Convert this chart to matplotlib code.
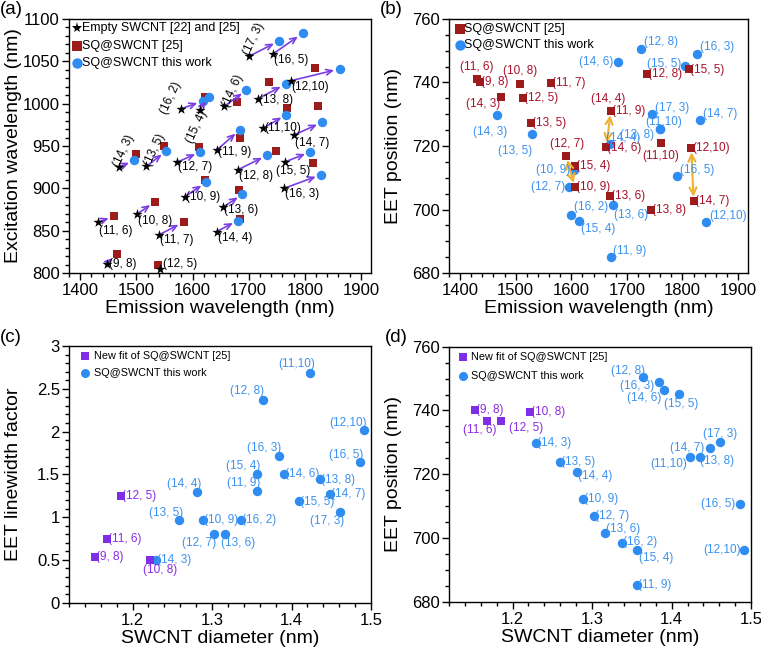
import matplotlib.pyplot as plt
from matplotlib.ticker import AutoMinorLocator, MultipleLocator, FormatStrFormatter
from matplotlib.transforms import ScaledTranslation

plt.rcParams['font.family'] = ['Liberation Sans', 'DejaVu Sans']
plt.rcParams['axes.linewidth'] = 1.0

# ---------------- data ----------------
# (a) excitation vs emission
a_empty_tube = ['(9, 8)', '(12, 5)', '(11, 6)', '(10, 8)', '(11, 7)', '(14, 4)', '(13, 6)', '(10, 9)',
                '(16, 3)', '(15, 5)', '(12, 8)', '(12, 7)', '(11, 9)', '(14, 3)', '(13, 5)', '(16, 2)',
                '(15, 4)', '(14, 6)', '(13, 8)', '(12,10)', '(11,10)', '(14, 7)', '(17, 3)', '(16, 5)']
a_empty_em = [1447, 1542, 1431, 1502, 1540, 1643, 1655, 1586,
              1763, 1764, 1681, 1573, 1643, 1469, 1518, 1580,
              1613, 1657, 1717, 1775, 1726, 1781, 1701, 1744]
a_empty_ex = [811, 805, 860, 870, 845, 849, 878, 890,
              900, 931, 922, 931, 945, 925, 926, 994,
              993, 997, 1006, 1027, 971, 963, 1056, 1059]

a_ref_tube = ['(9, 8)', '(12, 5)', '(11, 6)', '(10, 8)', '(11, 7)', '(14, 4)', '(13, 6)', '(10, 9)',
              '(15, 5)', '(12, 8)', '(12, 7)', '(11, 9)', '(14, 3)', '(13, 5)', '(15, 4)', '(14, 6)',
              '(13, 8)', '(12,10)', '(11,10)', '(14, 7)']
a_ref_em = [1465, 1538, 1460, 1533, 1584, 1684, 1683, 1622,
            1814, 1748, 1611, 1684, 1500, 1550, 1622, 1679,
            1736, 1819, 1769, 1824]
a_ref_ex = [822, 809, 867, 884, 860, 864, 898, 910,
            930, 944, 949, 960, 940, 950, 1008, 1002,
            1025, 1042, 995, 997]

a_this_tube = ['(14, 4)', '(13, 6)', '(10, 9)', '(16, 3)', '(15, 5)', '(12, 8)', '(12, 7)', '(11, 9)',
               '(14, 3)', '(13, 5)', '(16, 2)', '(15, 4)', '(14, 6)', '(13, 8)', '(12,10)', '(11,10)',
               '(14, 7)', '(17, 3)', '(16, 5)']
a_this_em = [1681, 1689, 1624, 1829, 1810, 1733, 1614, 1684,
             1496, 1553, 1618, 1630, 1696, 1766, 1862, 1767,
             1831, 1754, 1796]
a_this_ex = [862, 893, 907, 916, 943, 939, 943, 969,
             933, 944, 1003, 1008, 1016, 1023, 1041, 987,
             978, 1074, 1083]

# (b) EET position vs emission, SQ@SWCNT [25]
b_ref_tube = ['(11, 6)', '(9, 8)', '(10, 8)', '(11, 7)', '(14, 3)', '(12, 5)', '(13, 5)', '(12, 7)',
              '(15, 4)', '(10, 9)', '(14, 4)', '(11, 9)', '(14, 6)', '(13, 6)', '(13, 8)', '(12, 8)',
              '(15, 5)', '(11,10)', '(12,10)', '(14, 7)']
b_ref_em = [1430, 1436, 1508, 1564, 1474, 1514, 1527, 1591,
            1606, 1606, 1671, 1671, 1663, 1669, 1743, 1737,
            1811, 1762, 1816, 1820]
b_ref_eet = [741.1, 740.1, 739.6, 739.8, 735.5, 735.2, 727.2, 716.9,
             713.8, 707.1, 731.0, 731.0, 719.8, 704.2, 699.8, 742.7,
             744.3, 720.8, 719.3, 702.7]
b_reassign = [('(14, 4)', '(14, 6)'), ('(12, 7)', '(10, 9)'), ('(12,10)', '(14, 7)')]

# SQ@SWCNT this work (b, c, d)
this_tube = ['(14, 3)', '(13, 5)', '(14, 4)', '(10, 9)', '(12, 7)', '(13, 6)', '(16, 2)', '(15, 4)',
             '(11, 9)', '(12, 8)', '(16, 3)', '(14, 6)', '(15, 5)', '(17, 3)', '(14, 7)', '(11,10)',
             '(13, 8)', '(16, 5)', '(12,10)']
this_em = [1467, 1530, 1669, 1605, 1596, 1675, 1600, 1613,
           1671, 1725, 1826, 1684, 1805, 1746, 1831, 1759,
           1759, 1790, 1843]
this_eet = [729.9, 723.9, 720.6, 712.3, 707.0, 701.5, 698.4, 696.3,
            685.1, 750.6, 749.0, 746.4, 745.2, 730.2, 728.2, 725.3,
            725.5, 710.6, 696.1]
this_diam = [1.229, 1.259, 1.281, 1.288, 1.302, 1.316, 1.337, 1.357,
             1.357, 1.364, 1.384, 1.390, 1.409, 1.461, 1.448, 1.423,
             1.436, 1.486, 1.491]
this_lwf = [0.50, 0.97, 1.29, 0.97, 0.80, 0.80, 0.97, 1.50,
            1.30, 2.37, 1.71, 1.50, 1.19, 1.06, 1.27, 2.69,
            1.45, 1.64, 2.02]

# new fit of SQ@SWCNT [25] (c, d)
fit_tube = ['(9, 8)', '(11, 6)', '(12, 5)', '(10, 8)']
fit_diam = [1.153, 1.168, 1.185, 1.222]
fit_lwf = [0.53, 0.74, 1.25, 0.50]
fit_eet = [740.0, 736.6, 736.6, 739.6]

# ---------------- styles ----------------
RED = '#9c1c1c'
RED_TXT = '#a8102a'
BLUE = '#2f8cf0'
BLUE_TXT = '#3b92f0'
PURPLE = '#7d2ee6'
PURPLE_TXT = '#8a2be2'
ARROW = '#7a3fe4'
ORANGE = '#f0b030'
LBL = 8.5

# label placement: name -> (dx px, dy px, ha[, rotation])
a_lab = {
    '(9, 8)': (2, 0, 'left'), '(12, 5)': (3, 5, 'left'), '(11, 6)': (1, -9, 'left'),
    '(10, 8)': (1, -7, 'left'), '(11, 7)': (1, -5, 'left'), '(14, 4)': (1, -6, 'left'),
    '(13, 6)': (1, -3, 'left'), '(10, 9)': (1, 0, 'left'), '(16, 3)': (1, -6, 'left'),
    '(15, 5)': (-9, -9, 'left'), '(12, 8)': (1, -6, 'left'), '(12, 7)': (1, -5, 'left'),
    '(11, 9)': (1, -2, 'left'), '(13, 8)': (1, -1, 'left'), '(12,10)': (1, -6, 'left'),
    '(11,10)': (1, 0, 'left'), '(14, 7)': (1, -8, 'left'), '(16, 5)': (1, -6, 'left'),
    '(14, 3)': (5, 16, 'center', 65), '(13, 5)': (8, 16, 'center', 65),
    '(16, 2)': (-10, 11, 'center', 65), '(15, 4)': (-3, -17, 'center', 65),
    '(14, 6)': (8, 15, 'center', 65), '(17, 3)': (5, 17, 'center', 65),
}
b_ref_lab = {
    '(11, 6)': (0, 12, 'center'), '(9, 8)': (1, 0, 'left'), '(10, 8)': (0, 13, 'center'),
    '(11, 7)': (1, 0, 'left'), '(14, 3)': (-18, -7, 'center'), '(12, 5)': (1, 0, 'left'),
    '(13, 5)': (1, 0, 'left'), '(12, 7)': (1, 12, 'center'), '(15, 4)': (1, 0, 'left'),
    '(10, 9)': (1, 0, 'left'), '(14, 4)': (-3, 12, 'center'), '(11, 9)': (1, 0, 'left'),
    '(14, 6)': (1, -1, 'left'), '(13, 6)': (1, 0, 'left'), '(13, 8)': (1, 0, 'left'),
    '(12, 8)': (1, 0, 'left'), '(15, 5)': (1, -1, 'left'), '(11,10)': (-1, -13, 'center'),
    '(12,10)': (1, 0, 'left'), '(14, 7)': (1, 0, 'left'),
}
b_this_lab = {
    '(14, 3)': (-7, -17, 'center'), '(13, 5)': (-17, -17, 'center'), '(10, 9)': (-4, 0, 'right'),
    '(12, 7)': (-4, 0, 'right'), '(16, 2)': (3, 8, 'left'), '(15, 4)': (2, -8, 'left'),
    '(13, 6)': (1, -10, 'left'), '(11, 9)': (2, 6, 'left'), '(14, 4)': (-4, 6, 'left'),
    '(14, 6)': (-5, 0, 'right'), '(12, 8)': (3, 7, 'left'), '(16, 3)': (3, 7, 'left'),
    '(15, 5)': (-4, 2, 'right'), '(17, 3)': (3, 6, 'left'), '(13, 8)': (-6, -6, 'right'),
    '(11,10)': (4, 7, 'center'), '(14, 7)': (3, 6, 'left'), '(16, 5)': (3, 6, 'left'),
    '(12,10)': (3, 6, 'left'),
}
c_fit_lab = {'(12, 5)': (1, 0, 'left'), '(11, 6)': (1, 0, 'left'), '(9, 8)': (1, 0, 'left'),
             '(10, 8)': (10, -10, 'center')}
c_this_lab = {
    '(14, 3)': (1, 0, 'left'), '(13, 5)': (-13, 7, 'center'), '(14, 4)': (-13, 8, 'center'),
    '(10, 9)': (1, 0, 'left'), '(12, 7)': (-15, -9, 'center'), '(13, 6)': (13, -9, 'center'),
    '(16, 2)': (1, 0, 'left'), '(15, 4)': (-14, 8, 'center'), '(11, 9)': (-14, 8, 'center'),
    '(12, 8)': (-16, 9, 'center'), '(16, 3)': (-15, 8, 'center'), '(14, 6)': (1, 0, 'left'),
    '(11,10)': (-13, 9, 'center'), '(15, 5)': (1, -1, 'left'), '(13, 8)': (1, -1, 'left'),
    '(14, 7)': (1, 0, 'left'), '(17, 3)': (-13, -9, 'center'), '(16, 5)': (-14, 7, 'center'),
    '(12,10)': (-16, 7, 'center'),
}
d_fit_lab = {'(9, 8)': (1, 0, 'left'), '(11, 6)': (-7, -9, 'center'), '(12, 5)': (25, -7, 'center'),
             '(10, 8)': (1, 0, 'left')}
d_this_lab = {
    '(14, 3)': (1, 0, 'left'), '(13, 5)': (1, 0, 'left'), '(14, 4)': (1, -4, 'left'),
    '(10, 9)': (1, 0, 'left'), '(12, 7)': (1, 0, 'left'), '(13, 6)': (1, 4, 'left'),
    '(16, 2)': (1, 1, 'left'), '(15, 4)': (2, -8, 'left'), '(11, 9)': (1, 0, 'left'),
    '(12, 8)': (-15, 6, 'center'), '(16, 3)': (-5, -4, 'right'), '(14, 6)': (-2, -8, 'right'),
    '(15, 5)': (2, -10, 'center'), '(17, 3)': (0, 8, 'center'), '(14, 7)': (-5, 0, 'right'),
    '(11,10)': (-3, -7, 'right'), '(13, 8)': (0, -4, 'left'), '(16, 5)': (-5, 0, 'right'),
    '(12,10)': (-3, 0, 'right'),
}


def label_points(ax, names, xs, ys, layout, color):
    for name, x, y in zip(names, xs, ys):
        dx, dy, ha, *rot = layout[name]
        ax.annotate(name, (x, y), xytext=(dx, dy), textcoords='offset pixels',
                    ha=ha, va='center', color=color, fontsize=LBL,
                    rotation=rot[0] if rot else 0, zorder=5)


def style_axes(ax, xlim, ylim, xmaj, ymaj, xmin_n, ymin_n, xlabel, ylabel):
    ax.set_xlim(*xlim)
    ax.set_ylim(*ylim)
    ax.xaxis.set_major_locator(MultipleLocator(xmaj))
    ax.yaxis.set_major_locator(MultipleLocator(ymaj))
    ax.xaxis.set_minor_locator(AutoMinorLocator(xmin_n))
    ax.yaxis.set_minor_locator(AutoMinorLocator(ymin_n))
    ax.xaxis.set_major_formatter(FormatStrFormatter('%g'))
    ax.yaxis.set_major_formatter(FormatStrFormatter('%g'))
    ax.tick_params(which='both', direction='out', top=False, right=False, labelsize=12, width=1)
    ax.tick_params(which='major', length=5)
    ax.tick_params(which='minor', length=3)
    ax.tick_params(axis='y', pad=1.5)
    ax.tick_params(axis='x', pad=2.5)
    ax.set_xlabel(xlabel, fontsize=14)
    ax.set_ylabel(ylabel, fontsize=14)
    ax.xaxis.set_label_coords(0.5, -0.105)
    ax.yaxis.set_label_coords(-0.157, 0.5)


def legend(ax, entries, mark_dx, text_dx, rows_dy, size):
    # hand-placed legend, offsets in pixels from the upper-left corner of the axes
    for (m, c, ms, t), dy in zip(entries, rows_dy):
        mark_tr = ax.transAxes + ScaledTranslation(mark_dx / 100, -dy / 100, fig.dpi_scale_trans)
        ax.plot([0], [1], ls='none', marker=m, color=c, markersize=ms, mew=0,
                transform=mark_tr, clip_on=False, zorder=6)
        ax.annotate(t, (0, 1), xycoords='axes fraction', xytext=(text_dx, -dy),
                    textcoords='offset pixels', ha='left', va='center', fontsize=size)


fig = plt.figure(figsize=(7.61, 6.59), dpi=100)
ax_a = fig.add_axes([0.0907, 0.5857, 0.3968, 0.3855])
ax_b = fig.add_axes([0.590, 0.5857, 0.393, 0.3855])
ax_c = fig.add_axes([0.0907, 0.0854, 0.3968, 0.3896])
ax_d = fig.add_axes([0.590, 0.0869, 0.397, 0.3870])

# ---- (a)
ax_a.scatter(a_ref_em, a_ref_ex, marker='s', s=36, color=RED, zorder=2, linewidths=0)
ax_a.scatter(a_this_em, a_this_ex, marker='o', s=46, color=BLUE, zorder=3, linewidths=0)
ax_a.scatter(a_empty_em, a_empty_ex, marker='*', s=60, color='black', zorder=4, linewidths=0)
this_pos = dict(zip(a_this_tube, zip(a_this_em, a_this_ex)))
ref_pos = dict(zip(a_ref_tube, zip(a_ref_em, a_ref_ex)))
for name, x, y in zip(a_empty_tube, a_empty_em, a_empty_ex):
    if name == '(12, 5)':
        continue
    target = this_pos.get(name, ref_pos.get(name))
    ax_a.annotate('', xy=target, xytext=(x, y),
                  arrowprops=dict(arrowstyle='->,head_length=0.45,head_width=0.2', color=ARROW,
                                  lw=1.2, shrinkA=1, shrinkB=4), zorder=3)
label_points(ax_a, a_empty_tube, a_empty_em, a_empty_ex, a_lab, 'black')
style_axes(ax_a, (1380, 1918), (800, 1100), 100, 50, 5, 5,
           'Emission wavelength (nm)', 'Excitation wavelength (nm)')
legend(ax_a, [('*', 'black', 8, 'Empty SWCNT [22] and [25]'),
              ('s', RED, 6.5, 'SQ@SWCNT [25]'),
              ('o', BLUE, 7.5, 'SQ@SWCNT this work')], 8.3, 12.7, [9.3, 26.7, 43.7], 9)

# ---- (b)
ax_b.scatter(b_ref_em, b_ref_eet, marker='s', s=36, color=RED, zorder=3, linewidths=0)
ax_b.scatter(this_em, this_eet, marker='o', s=46, color=BLUE, zorder=2, linewidths=0)
bpos = dict(zip(b_ref_tube, zip(b_ref_em, b_ref_eet)))
for p, q in b_reassign:
    ax_b.annotate('', xy=bpos[q], xytext=bpos[p],
                  arrowprops=dict(arrowstyle='<->,head_length=0.5,head_width=0.25', color=ORANGE,
                                  lw=1.5, shrinkA=3, shrinkB=3), zorder=4)
label_points(ax_b, b_ref_tube, b_ref_em, b_ref_eet, b_ref_lab, RED_TXT)
label_points(ax_b, this_tube, this_em, this_eet, b_this_lab, BLUE_TXT)
style_axes(ax_b, (1380, 1918), (680, 760), 100, 20, 5, 4,
           'Emission wavelength (nm)', 'EET position (nm)')
legend(ax_b, [('s', RED, 6.5, 'SQ@SWCNT [25]'),
              ('o', BLUE, 7.5, 'SQ@SWCNT this work')], 11, 15, [10, 25.7], 9)

# ---- (c)
ax_c.scatter(fit_diam, fit_lwf, marker='s', s=36, color=PURPLE, zorder=3, linewidths=0)
ax_c.scatter(this_diam, this_lwf, marker='o', s=46, color=BLUE, zorder=2, linewidths=0)
label_points(ax_c, fit_tube, fit_diam, fit_lwf, c_fit_lab, PURPLE_TXT)
label_points(ax_c, this_tube, this_diam, this_lwf, c_this_lab, BLUE_TXT)
style_axes(ax_c, (1.12, 1.5), (0, 3), 0.1, 0.5, 5, 5,
           'SWCNT diameter (nm)', 'EET linewidth factor')
legend(ax_c, [('s', PURPLE, 5.5, 'New fit of SQ@SWCNT [25]'),
              ('o', BLUE, 6.5, 'SQ@SWCNT this work')], 16.3, 24.5, [10, 27.3], 7.8)

# ---- (d)
ax_d.scatter(fit_diam, fit_eet, marker='s', s=36, color=PURPLE, zorder=3, linewidths=0)
ax_d.scatter(this_diam, this_eet, marker='o', s=46, color=BLUE, zorder=2, linewidths=0)
label_points(ax_d, fit_tube, fit_diam, fit_eet, d_fit_lab, PURPLE_TXT)
label_points(ax_d, this_tube, this_diam, this_eet, d_this_lab, BLUE_TXT)
style_axes(ax_d, (1.12, 1.5), (680, 760), 0.1, 20, 5, 4,
           'SWCNT diameter (nm)', 'EET position (nm)')
legend(ax_d, [('s', PURPLE, 5.5, 'New fit of SQ@SWCNT [25]'),
              ('o', BLUE, 6.5, 'SQ@SWCNT this work')], 14.3, 22.2, [10, 29], 7.8)

for tag, x, y in [('(a)', 0.0, 0.985), ('(b)', 0.4993, 0.985),
                  ('(c)', 0.0, 0.4886), ('(d)', 0.506, 0.4886)]:
    fig.text(x, y, tag, fontsize=13.5, va='center', ha='left')

fig.savefig('out.png', dpi=100)
